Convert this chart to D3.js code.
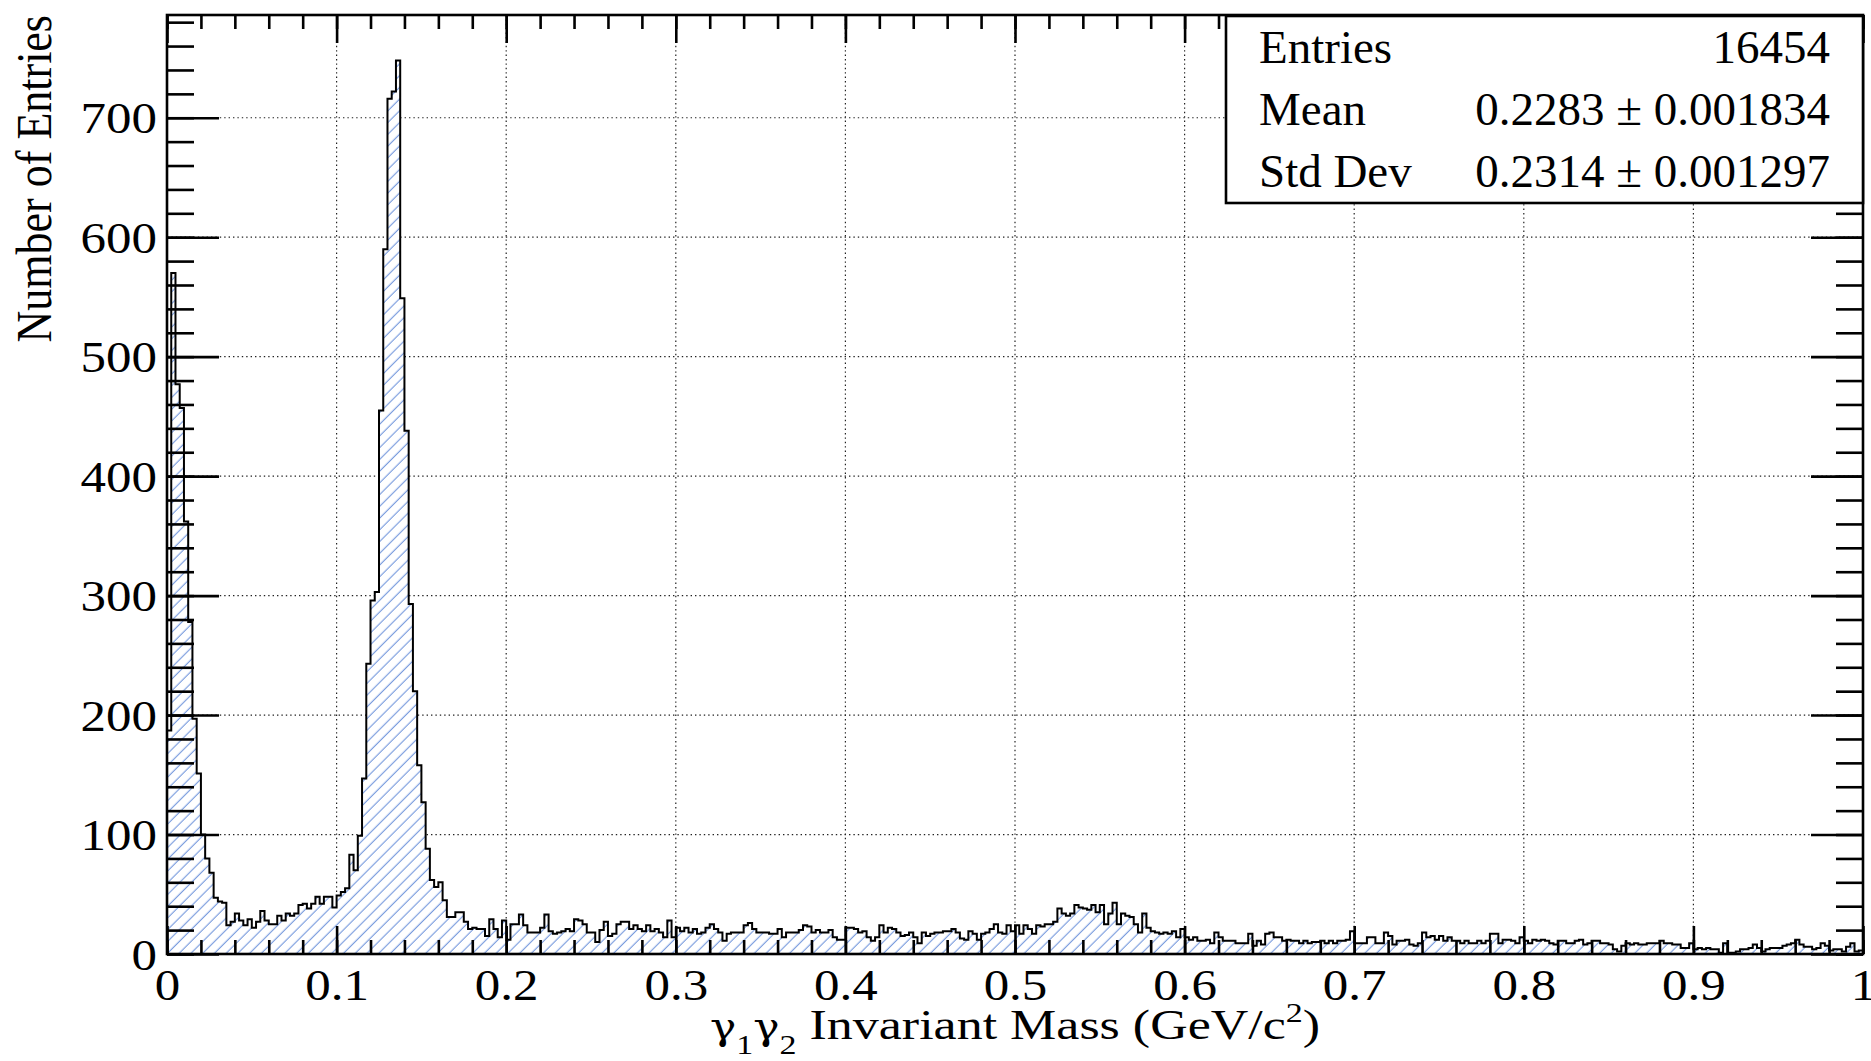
<!DOCTYPE html>
<html>
<head>
<meta charset="utf-8">
<script src="https://cdn.jsdelivr.net/npm/d3@7"></script>
<style>
  body { margin: 0; background: #fff; }
  svg { display: block; }
  text { font-family: "Liberation Serif", "Times New Roman", serif; fill: #000; }
</style>
</head>
<body>
<div id="chart"></div>
<script>
// histogram binning: 400 bins of 0.0025 GeV from 0 to 1
const binWidth = 0.0025;
const counts = [
  // 0.000 - 0.100
  187, 570, 477, 457, 362, 278, 197, 151, 100, 80, 68, 47, 44, 43,
  24, 27, 34, 28, 24, 29, 22, 27, 36, 28, 25, 25, 32, 28, 34, 32,
  34, 41, 42, 38, 42, 48, 42, 48, 48, 39,
  // 0.100 - 0.250 (pi0 peak)
  49, 52, 55, 83, 70, 99, 147, 243, 296, 303,
  455, 590, 716, 722, 748, 549, 438, 293, 220, 158,
  127, 88, 62, 56, 60, 45, 31, 31, 35, 35,
  27, 21, 22, 21, 21, 15, 29, 21, 14, 28,
  12, 25, 25, 33, 24, 18, 18, 18, 22, 33,
  19, 17, 18, 19, 21, 19, 29, 28, 25, 18,
  // 0.250 - 0.500
  18, 10, 20, 27, 15, 17, 25, 27, 27, 21,
  24, 21, 19, 24, 19, 21, 18, 14, 28, 14,
  22, 19, 22, 18, 21, 17, 18, 22, 25, 21,
  18, 11, 17, 18, 18, 18, 24, 26, 21, 18,
  18, 18, 17, 17, 21, 14, 18, 18, 18, 20,
  24, 23, 18, 20, 18, 18, 20, 14, 12, 12,
  22, 22, 21, 18, 19, 14, 11, 14, 24, 18,
  22, 21, 18, 15, 16, 18, 14, 9, 18, 15,
  17, 18, 18, 19, 19, 21, 18, 13, 12, 19,
  17, 12, 17, 18, 21, 25, 18, 17, 24, 19,
  // 0.500 - 0.750 (eta bump)
  24, 17, 24, 21, 17, 24, 23, 25, 25, 27,
  38, 34, 32, 34, 41, 39, 38, 37, 41, 35,
  41, 25, 34, 43, 25, 34, 32, 31, 25, 18,
  34, 22, 19, 18, 17, 18, 17, 19, 14, 21,
  14, 12, 14, 11, 11, 12, 9, 18, 14, 11,
  11, 11, 9, 9, 9, 17, 7, 11, 8, 17,
  18, 14, 14, 11, 12, 11, 11, 9, 11, 9,
  10, 10, 11, 9, 11, 9, 11, 11, 12, 19,
  9, 9, 9, 14, 14, 9, 9, 18, 15, 8,
  11, 11, 12, 8, 7, 9, 18, 14, 15, 12,
  // 0.750 - 1.000
  15, 11, 14, 11, 11, 9, 11, 9, 9, 11,
  9, 11, 17, 17, 9, 12, 12, 11, 9, 14,
  11, 9, 12, 11, 12, 11, 9, 8, 11, 11,
  9, 9, 11, 12, 8, 9, 11, 11, 9, 9,
  8, 4, 2, 7, 9, 8, 9, 8, 8, 9,
  9, 9, 11, 9, 9, 8, 8, 5, 5, 9,
  4, 5, 4, 5, 4, 4, 1, 9, 1, 1,
  2, 4, 4, 5, 8, 5, 2, 4, 5, 5,
  5, 7, 8, 9, 12, 8, 6, 6, 4, 5,
  9, 7, 3, 4, 4, 2, 6, 9, 2, 3
];

const xMajor = [0, 0.1, 0.2, 0.3, 0.4, 0.5, 0.6, 0.7, 0.8, 0.9, 1];
const xTickLabels = ["0", "0.1", "0.2", "0.3", "0.4", "0.5", "0.6", "0.7", "0.8", "0.9", "1"];
const yMajor = [0, 100, 200, 300, 400, 500, 600, 700];
const yTickLabels = ["0", "100", "200", "300", "400", "500", "600", "700"];

const statNames = ["Entries", "Mean", "Std Dev"];
const statValues = ["16454", "0.2283 \u00b1 0.001834", "0.2314 \u00b1 0.001297"];

const W = 1871, H = 1061;
const frame = { left: 167, right: 1863, top: 15, bottom: 954 };
const yMax = 786;

const svg = d3.select("#chart").append("svg")
  .attr("width", W)
  .attr("height", H);

const x = d3.scaleLinear().domain([0, 1]).range([frame.left, frame.right]);
const y = d3.scaleLinear().domain([0, yMax]).range([frame.bottom, frame.top]);

// hatch pattern
const defs = svg.append("defs");
defs.append("pattern")
    .attr("id", "hatch")
    .attr("patternUnits", "userSpaceOnUse")
    .attr("width", 8.3)
    .attr("height", 8.3)
    .attr("patternTransform", "rotate(-45)")
  .append("line")
    .attr("x1", 0).attr("y1", 4)
    .attr("x2", 8.3).attr("y2", 4)
    .attr("stroke", "#7196dc")
    .attr("stroke-width", 1.1);

// dotted grid
const grid = svg.append("g")
  .attr("stroke", "#222")
  .attr("stroke-width", 1.2)
  .attr("stroke-dasharray", "1.4,3");
grid.selectAll(".gx")
  .data(xMajor.slice(1, -1))
  .join("line")
    .attr("class", "gx")
    .attr("x1", d => x(d)).attr("x2", d => x(d))
    .attr("y1", frame.top).attr("y2", frame.bottom);
grid.selectAll(".gy")
  .data(yMajor.slice(1))
  .join("line")
    .attr("class", "gy")
    .attr("x1", frame.left).attr("x2", frame.right)
    .attr("y1", d => y(d)).attr("y2", d => y(d));

// histogram outline points
const pts = [[0, 0]];
counts.forEach((c, i) => {
  pts.push([i * binWidth, c]);
  pts.push([(i + 1) * binWidth, c]);
});
pts.push([1, 0]);

const line = d3.line().x(d => x(d[0])).y(d => y(d[1]));

svg.append("path").attr("d", line(pts) + "Z").attr("fill", "#fff");
svg.append("path").attr("d", line(pts) + "Z").attr("fill", "url(#hatch)");
svg.append("path")
  .attr("d", line(pts))
  .attr("fill", "none")
  .attr("stroke", "#000")
  .attr("stroke-width", 2)
  .attr("stroke-linejoin", "miter");

// axes (ticks pointing inward on all four sides)
const styleTicks = g => {
  g.select(".domain").remove();
  g.selectAll("line").attr("stroke", "#000").attr("stroke-width", 2.6);
};

svg.append("g")
  .attr("transform", `translate(0,${frame.bottom})`)
  .call(d3.axisBottom(x).ticks(50).tickSize(-14).tickFormat(""))
  .call(styleTicks);
const gx = svg.append("g")
  .attr("transform", `translate(0,${frame.bottom})`)
  .call(d3.axisBottom(x).tickValues(xMajor).tickSize(-28)
    .tickFormat(d => xTickLabels[xMajor.indexOf(d)]))
  .call(styleTicks);
gx.attr("font-size", 51).attr("font-family", null);
gx.selectAll("text")
  .attr("y", 0).attr("dy", null)
  .attr("fill", "#000")
  .attr("transform", "translate(0,46) scale(1,0.88)");

svg.append("g")
  .attr("transform", `translate(0,${frame.top})`)
  .call(d3.axisTop(x).ticks(50).tickSize(-14).tickFormat(""))
  .call(styleTicks);
svg.append("g")
  .attr("transform", `translate(0,${frame.top})`)
  .call(d3.axisTop(x).tickValues(xMajor).tickSize(-28).tickFormat(""))
  .call(styleTicks);

svg.append("g")
  .attr("transform", `translate(${frame.left},0)`)
  .call(d3.axisLeft(y).ticks(40).tickSize(-27).tickFormat(""))
  .call(styleTicks);
const gy = svg.append("g")
  .attr("transform", `translate(${frame.left},0)`)
  .call(d3.axisLeft(y).tickValues(yMajor).tickSize(-52)
    .tickFormat(d => yTickLabels[yMajor.indexOf(d)]))
  .call(styleTicks);
gy.attr("font-size", 51).attr("font-family", null);
gy.selectAll("text")
  .attr("x", 0).attr("dy", null)
  .attr("fill", "#000")
  .attr("transform", "translate(-10,15) scale(1,0.88)");

svg.append("g")
  .attr("transform", `translate(${frame.right},0)`)
  .call(d3.axisRight(y).ticks(40).tickSize(-27).tickFormat(""))
  .call(styleTicks);
svg.append("g")
  .attr("transform", `translate(${frame.right},0)`)
  .call(d3.axisRight(y).tickValues(yMajor).tickSize(-52).tickFormat(""))
  .call(styleTicks);

// frame
svg.append("rect")
  .attr("x", frame.left).attr("y", frame.top)
  .attr("width", frame.right - frame.left)
  .attr("height", frame.bottom - frame.top)
  .attr("fill", "none")
  .attr("stroke", "#000")
  .attr("stroke-width", 2.6);

// stats box
const box = { x: 1226, y: 16, w: 637, h: 187 };
svg.append("rect")
  .attr("x", box.x).attr("y", box.y)
  .attr("width", box.w).attr("height", box.h)
  .attr("fill", "#fff")
  .attr("stroke", "#000")
  .attr("stroke-width", 2.6);

const rows = svg.append("g").attr("font-size", 47);
rows.selectAll(".sname")
  .data(statNames)
  .join("text")
    .attr("class", "sname")
    .attr("transform", (d, i) => `translate(1259,${63 + i * 62}) scale(1,0.98)`)
    .text(d => d);
rows.selectAll(".sval")
  .data(statValues)
  .join("text")
    .attr("class", "sval")
    .attr("text-anchor", "end")
    .attr("transform", (d, i) => `translate(1830,${63 + i * 62}) scale(1,0.98)`)
    .text(d => d);

// axis titles
svg.append("text")
  .attr("font-size", 44)
  .attr("text-anchor", "end")
  .attr("transform", `translate(51,${frame.top}) rotate(-90) scale(1,1.17)`)
  .text("Number of Entries");

const xt = svg.append("text")
  .attr("font-size", 52)
  .attr("text-anchor", "middle")
  .attr("transform", `translate(${(frame.left + frame.right) / 2},1039) scale(1,0.83)`);
xt.append("tspan").attr("font-family", "DejaVu Serif").attr("font-size", 44).text("\u03b3");
xt.append("tspan").attr("font-size", 34).attr("dy", 18).text("1");
xt.append("tspan").attr("font-family", "DejaVu Serif").attr("font-size", 44).attr("dy", -18).text("\u03b3");
xt.append("tspan").attr("font-size", 34).attr("dy", 18).text("2");
xt.append("tspan").attr("dy", -18).text(" Invariant Mass (GeV/c");
xt.append("tspan").attr("font-size", 34).attr("dy", -20).text("2");
xt.append("tspan").attr("dy", 20).text(")");
</script>
</body>
</html>
